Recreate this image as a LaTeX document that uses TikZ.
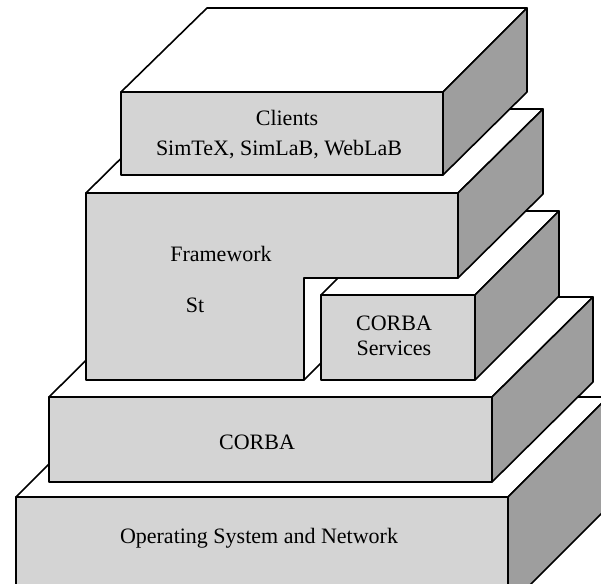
\documentclass[tikz,border=0pt]{standalone}
\usepackage{fontspec}
\setmainfont{Liberation Serif}
\usepackage{tikz}
\usetikzlibrary{positioning}
\tikzset
{
    frontface/.style = {draw=black, fill=black!17, line width=1.6pt, line join=round},
    topface/.style   = {draw=black, fill=white, line width=1.6pt, line join=round},
    sideface/.style  = {draw=black, fill=black!38, line width=1.6pt, line join=round},
    label/.style     = {font=\fontsize{22}{25}\selectfont, align=center, inner sep=0pt}
}
\begin{document}
\begin{tikzpicture}[x=1pt, y=-1pt]

	 \newcommand\DU{84}
	 \newcommand\DL{100}

   \useasboundingbox (0,0) rectangle (601,583);
   \clip (0,0) rectangle (601,583);

   %% operating system and network
   \draw[topface]   (16,497) -- ++(\DL,-\DL) -- ++(492,0) -- (508,497) -- cycle;
   \draw[sideface]  (508,497) -- ++(\DL,-\DL) -- ++(0,110) -- (508,607) -- cycle;
   \draw[frontface] (16,497) rectangle (508,607);

   %% corba
   \draw[topface]   (49,397) -- ++(\DL+1,-\DL) -- (593,297) -- (492,397) -- cycle;
   \draw[sideface]  (492,397) -- (593,297) -- (593,382) -- (492,482) -- cycle;
   \draw[frontface] (49,397) rectangle (492,482);

   %% framework, face in the notch
   \draw[topface]   (304,278) -- ++(\DU,-\DU) -- ++(0,102) -- (304,380) -- cycle;

   %% corba services
   \draw[topface]   (321,295) -- ++(\DU,-\DU) -- (559,211) -- (475,295) -- cycle;
   \draw[sideface]  (475,295) -- (559,211) -- (559,296) -- (475,380) -- cycle;
   \draw[frontface] (321,295) rectangle (475,380);

   %% framework
   \draw[topface]   (86,193) -- ++(\DU+1,-\DU) -- (543,109) -- (458,193) -- cycle;
   \draw[sideface]  (458,193) -- (543,109) -- (543,194) -- (458,278) -- cycle;
   \draw[frontface] (86,193) -- (458,193) -- (458,278) -- (304,278) -- (304,380) -- (86,380) -- cycle;

   %% clients
   \draw[topface]   (121,92) -- ++(\DU+2,-\DU) -- (527,8) -- (443,92) -- cycle;
   \draw[sideface]  (443,92) -- (527,8) -- (527,92) -- (443,175) -- cycle;
   \draw[frontface] (121,92) rectangle (443,175);

   \node (clients) [label] at (287,118) {Clients};
   \node (apps)    [label] at (279,150) {SimTeX, SimLaB, WebLaB};
   \node (frame)   [label] at (221,254) {Framework};
   \node (st)      [label] at (195,305) {St};
   \node (svc)     [label] at (394,336) {CORBA\\Services};
   \node (corba)   [label] at (257,442) {CORBA};
   \node (os)      [label] at (259,538) {Operating System and Network};

\end{tikzpicture}
\end{document}
